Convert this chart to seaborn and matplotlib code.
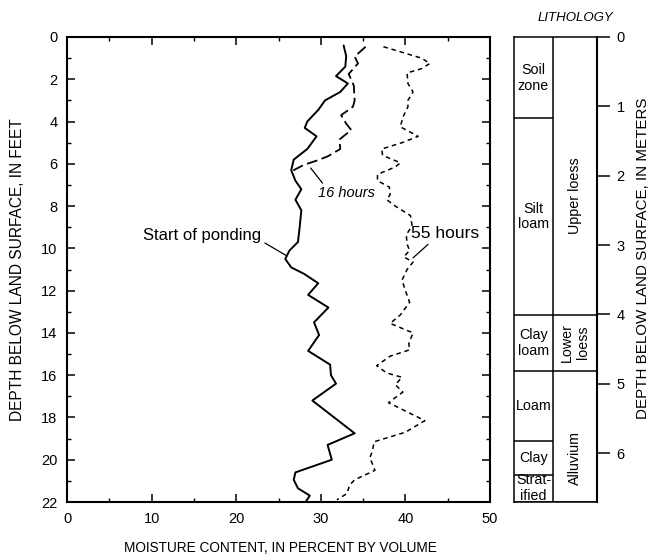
import numpy as np
import pandas as pd
import matplotlib
matplotlib.use("Agg")
import matplotlib.pyplot as plt
import seaborn as sns
from matplotlib.ticker import MultipleLocator

# ---------------- data ----------------
ponding_depth = [0.4, 0.9, 1.4, 1.85, 2.2, 2.6, 3.0, 3.45, 4.0, 4.3, 4.7, 5.3, 5.8, 6.3, 6.8,
                 7.2, 7.7, 8.2, 9.0, 9.7, 10.1, 10.5, 10.9, 11.2, 11.65, 12.2, 12.8, 13.5, 14.1,
                 14.85, 15.5, 16.0, 16.4, 17.2, 18.75, 19.3, 20.0, 20.6, 20.95, 21.35, 21.7, 22.0]
ponding_moist = [32.7, 33.0, 32.9, 31.8, 33.2, 32.3, 30.5, 29.7, 28.4, 28.1, 29.5, 28.4, 26.8, 26.5, 27.0,
                 27.7, 27.0, 27.7, 27.5, 27.3, 26.3, 25.8, 26.5, 28.0, 29.7, 28.5, 30.9, 29.2, 29.8,
                 28.5, 31.1, 31.2, 31.8, 29.0, 34.0, 30.8, 31.3, 27.0, 26.8, 27.3, 28.7, 28.2]

h16_depth = [0.46, 0.93, 1.25, 1.75, 2.3, 3.0, 3.3, 3.7, 4.1, 4.4, 4.85, 5.3, 5.65, 5.85, 6.05, 6.3, 6.45]
h16_moist = [35.3, 34.0, 34.4, 33.3, 33.9, 34.0, 33.8, 32.4, 33.0, 33.6, 32.2, 32.3, 30.8, 29.5, 28.0, 26.8, 26.5]

h55_depth = [0.46, 0.7, 1.0, 1.25, 1.5, 1.7, 2.2, 2.6, 3.0, 3.3, 3.8, 4.25, 4.7, 5.0, 5.3, 5.6, 5.95,
             6.15, 6.5, 6.8, 7.1, 7.45, 7.7, 8.0, 8.45, 8.95, 9.35, 9.8, 10.1, 10.4, 10.65, 11.0, 11.5,
             12.0, 12.55, 13.15, 13.55, 14.0, 14.5, 14.8, 15.1, 15.55, 15.9, 16.1, 16.45, 16.8, 17.3,
             18.15, 18.7, 19.15, 19.6, 19.9, 20.5, 20.95, 21.2, 21.6, 21.9]
h55_moist = [37.4, 39.4, 41.9, 42.9, 41.9, 40.2, 40.3, 40.9, 40.3, 40.3, 39.7, 39.4, 41.5, 39.6, 37.2, 37.3, 39.4,
             38.8, 36.7, 36.7, 38.1, 38.2, 37.8, 38.8, 40.6, 40.8, 40.1, 40.2, 40.5, 39.8, 40.9, 40.2, 39.6,
             40.0, 40.5, 39.4, 38.2, 40.9, 40.4, 40.5, 38.2, 36.6, 37.8, 39.6, 38.8, 39.7, 38.0,
             42.3, 40.0, 36.3, 36.1, 35.8, 36.4, 34.0, 33.4, 33.1, 31.9]

# lithology (feet)
litho_top = [0.0, 3.85, 13.15, 15.8, 19.1, 20.7]
litho_bot = [3.85, 13.15, 15.8, 19.1, 20.7, 22.0]
litho_names = ["Soil\nzone", "Silt\nloam", "Clay\nloam", "Loam", "Clay", "Strat-\nified"]

unit_top = [0.0, 13.15, 15.8]
unit_bot = [13.15, 15.8, 22.0]
unit_names = ["Upper loess", "Lower\nloess", "Alluvium"]
unit_label_depth = [7.5, 14.45, 19.9]

x_ticks = [0, 10, 20, 30, 40, 50]
y_ticks = [0, 2, 4, 6, 8, 10, 12, 14, 16, 18, 20, 22]
m_ticks = [0, 1, 2, 3, 4, 5, 6]

# ---------------- figure ----------------
sns.set_style("ticks")
plt.rcParams["font.family"] = ["Liberation Sans", "DejaVu Sans"]
plt.rcParams["text.color"] = "black"
plt.rcParams["axes.labelcolor"] = "black"
plt.rcParams["xtick.color"] = "black"
plt.rcParams["ytick.color"] = "black"

W, H = 653, 558
fig = plt.figure(figsize=(W / 100, H / 100), dpi=100)

def fx(px):
    return px / W

def fy(py):
    return 1 - py / H

ax = fig.add_axes([fx(67), fy(502), fx(490) - fx(67), fy(37) - fy(502)])

df_p = pd.DataFrame({"depth": ponding_depth, "moist": ponding_moist})
df_16 = pd.DataFrame({"depth": h16_depth, "moist": h16_moist})
df_55 = pd.DataFrame({"depth": h55_depth, "moist": h55_moist})

sns.lineplot(data=df_p, x="moist", y="depth", orient="y", sort=False, ax=ax,
             color="black", linewidth=1.4)
sns.lineplot(data=df_16, x="moist", y="depth", orient="y", sort=False, ax=ax,
             color="black", linewidth=1.3, linestyle=(0, (6, 2.5)))
sns.lineplot(data=df_55, x="moist", y="depth", orient="y", sort=False, ax=ax,
             color="black", linewidth=1.1, linestyle=(0, (3, 2.5)))

ax.set_xlim(0, 50)
ax.set_ylim(22, 0)
ax.set_xticks(x_ticks)
ax.set_yticks(y_ticks)
ax.xaxis.set_minor_locator(MultipleLocator(5))
ax.yaxis.set_minor_locator(MultipleLocator(1))
ax.tick_params(which="major", direction="in", length=6, width=1.1, top=True, right=True,
               labelsize=10.5, colors="black", pad=7)
ax.tick_params(which="minor", direction="in", length=3, width=1.0, top=True, right=True)
for s in ax.spines.values():
    s.set_linewidth(1.5)
    s.set_color("black")
ax.set_xlabel("")
ax.set_ylabel("")

fig.text(fx(18), fy(270), "DEPTH BELOW LAND SURFACE, IN FEET", rotation=90,
         ha="center", va="center", fontsize=11.2)
fig.text(fx(280), fy(548), "MOISTURE CONTENT, IN PERCENT BY VOLUME",
         ha="center", va="center", fontsize=9.8)

# annotations
ax.annotate("16 hours", xy=(28.8, 6.2), xytext=(29.7, 7.4), fontsize=10.5,
            fontstyle="italic", ha="left", va="center",
            arrowprops=dict(arrowstyle="-", color="black", lw=0.9, shrinkA=0, shrinkB=0,
                            relpos=(0.12, 1.0)))
ax.annotate("Start of ponding", xy=(26.0, 10.36), xytext=(23.0, 9.37), fontsize=12,
            ha="right", va="center",
            arrowprops=dict(arrowstyle="-", color="black", lw=0.9, shrinkA=0, shrinkB=0,
                            relpos=(1.0, 0.1)))
ax.annotate("55 hours", xy=(40.9, 10.45), xytext=(40.7, 9.3), fontsize=12.5,
            ha="left", va="center",
            arrowprops=dict(arrowstyle="-", color="black", lw=0.9, shrinkA=0, shrinkB=0,
                            relpos=(0.3, 0.0)))

# ---------------- lithology panel ----------------
lx = fig.add_axes([fx(514), fy(502), fx(597) - fx(514), fy(37) - fy(502)])
lx.set_xlim(0, 1)
lx.set_ylim(22, 0)
split = (553 - 514) / (597 - 514)
for t, b, n in zip(litho_top, litho_bot, litho_names):
    lx.hlines(b, 0, split, color="black", lw=1.1)
    lx.text(split / 2, (t + b) / 2, n, ha="center", va="center", fontsize=10.3,
            linespacing=1.15)
for t, b, n, d in zip(unit_top, unit_bot, unit_names, unit_label_depth):
    lx.hlines(b, split, 1, color="black", lw=1.1)
    lx.text((split + 1) / 2, d, n, ha="center", va="center", fontsize=10.3,
            rotation=90, linespacing=1.15)
lx.vlines(split, 0, 22, color="black", lw=1.1)
for s in ["left", "bottom", "top"]:
    lx.spines[s].set_linewidth(1.1)
    lx.spines[s].set_color("black")
lx.spines["right"].set_linewidth(1.5)
lx.spines["right"].set_color("black")
lx.set_xticks([])
lx.yaxis.tick_right()
lx.set_yticks([m * 3.28084 for m in m_ticks])
lx.set_yticklabels([str(m) for m in m_ticks])
lx.tick_params(axis="y", direction="out", length=9, width=1.1, labelsize=10.5,
               colors="black", pad=5, left=False)

fig.text(fx(575), fy(18), "LITHOLOGY", ha="center", va="center", fontsize=9.5,
         fontstyle="italic")
fig.text(fx(643), fy(258), "DEPTH BELOW LAND SURFACE, IN METERS", rotation=90,
         ha="center", va="center", fontsize=10.9)

fig.savefig("out.png", dpi=100, facecolor="white")
